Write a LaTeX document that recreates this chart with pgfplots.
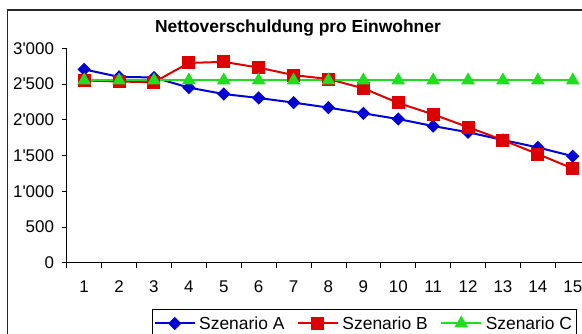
\documentclass[border=0pt]{standalone}
\usepackage{pgfplots}
\pgfplotsset{compat=1.18}
\usepackage{fontspec}
\newfontfamily\arial{Liberation Sans}
\usetikzlibrary{plotmarks}

\definecolor{serA}{RGB}{0,0,210}
\definecolor{serB}{RGB}{222,0,0}
\definecolor{serC}{RGB}{30,222,30}

\pgfplotstableread{
x   A     B     C
1   2705  2550  2550
2   2600  2535  2550
3   2592  2525  2550
4   2450  2795  2550
5   2360  2810  2550
6   2305  2730  2550
7   2240  2625  2550
8   2170  2570  2550
9   2090  2440  2550
10  2010  2235  2550
11  1912  2075  2550
12  1825  1897  2550
13  1717  1715  2550
14  1613  1520  2550
15  1490  1318  2550
}\nettoschuld

\begin{document}
\begin{tikzpicture}
\path[use as bounding box, clip] (0bp,0bp) rectangle (582bp,334bp);
\fill[white] (0bp,0bp) rectangle (582bp,334bp);
\begin{axis}[
  at={(66.7bp,71.3bp)}, anchor=south west,
  scale only axis, width=523.5bp, height=214.4bp,
  xmin=0.5, xmax=15.5, ymin=0, ymax=3000,
  axis x line*=bottom, axis y line*=left,
  axis line style={line width=0.8bp, black},
  clip=false,
  tick align=outside,
  xtick={1,...,15},
  xticklabels={1,2,3,4,5,6,7,8,9,10,11,12,13,14,15},
  major x tick style={draw=none},
  minor xtick={0.5,1.5,...,15.5},
  minor x tick style={line width=0.8bp, black},
  minor tick length=5.6bp,
  ytick={0,500,...,3000},
  yticklabels={0,500,1'000,1'500,2'000,2'500,3'000},
  y tick style={line width=0.8bp, black},
  major tick length=5bp,
  tick label style={font=\arial\fontsize{17}{17}\selectfont},
  xticklabel style={inner ysep=13bp},
  yticklabel style={inner xsep=7.5bp},
  title={\arial\bfseries\fontsize{17.5}{17.5}\selectfont Nettoverschuldung pro Einwohner},
  title style={at={(axis description cs:0.4418,1.0746)}, anchor=base,
    yshift=-6pt, inner sep=0pt},
  legend columns=3,
  legend style={at={(axis description cs:0.1635,-0.216)}, anchor=north west,
    draw=black, line width=0.8bp, fill=white,
    font=\arial\fontsize{17.5}{17.5}\selectfont,
    inner xsep=1bp, inner ysep=1bp,
    nodes={inner xsep=3.5bp, inner ysep=6bp},
    /tikz/every even column/.append style={column sep=9bp}},
  legend image code/.code={
    \draw[mark repeat=2, mark phase=2, #1]
      plot coordinates {(0bp,0bp) (20bp,0bp) (40bp,0bp)};},
]
\addplot[serA, line width=2bp, mark=square*, mark size=3.7bp,
  mark options={rotate=45, solid, fill=serA, draw=serA}]
  table[x=x, y=A] {\nettoschuld};
\addlegendentry{Szenario A}
\addplot[serB, line width=2bp, mark=square*, mark size=5.5bp,
  mark options={solid, fill=serB, draw=serB}]
  table[x=x, y=B] {\nettoschuld};
\addlegendentry{Szenario B}
\addplot[serC, line width=2bp, mark=triangle*, mark size=6bp,
  mark options={solid, fill=serC, draw=serC}]
  table[x=x, y=C] {\nettoschuld};
\addlegendentry{Szenario C}
\end{axis}
% border of the chart area
\draw[line width=1.2bp, black!85] (7.3bp,-10bp) rectangle (620bp,324bp);
\end{tikzpicture}
\end{document}
